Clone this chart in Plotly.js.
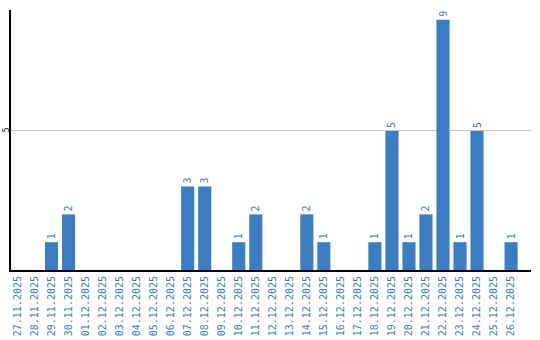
<!DOCTYPE html>
<html>
<head>
<meta charset="utf-8">
<script src="https://cdn.plot.ly/plotly-3.0.1.min.js"></script>
<style>html,body{margin:0;padding:0;background:#fff;}#chart{width:540px;height:340px;}</style>
</head>
<body>
<div id="chart"></div>
<script>
const dates = ["27.11.2025","28.11.2025","29.11.2025","30.11.2025","01.12.2025","02.12.2025","03.12.2025","04.12.2025","05.12.2025","06.12.2025","07.12.2025","08.12.2025","09.12.2025","10.12.2025","11.12.2025","12.12.2025","13.12.2025","14.12.2025","15.12.2025","16.12.2025","17.12.2025","18.12.2025","19.12.2025","20.12.2025","21.12.2025","22.12.2025","23.12.2025","24.12.2025","25.12.2025","26.12.2025"];
const counts = [0,0,1,2,0,0,0,0,0,0,3,3,0,1,2,0,0,2,1,0,0,1,5,1,2,9,1,5,0,1];
const yTicks = [5];

const labels = counts.map(v => v > 0 ? String(v) : "");
const idx = dates.map((d, i) => i);

const trace = {
  type: "bar",
  x: idx,
  y: counts,
  marker: {color: "#3b7dc3"},
  text: labels,
  textposition: "outside",
  textangle: -90,
  cliponaxis: false,
  textfont: {family: "DejaVu Sans Mono", size: 10, color: "#3b7dc3"},
  hoverinfo: "none"
};

const layout = {
  width: 540, height: 340,
  margin: {l: 11, r: 9, t: 10, b: 70},
  paper_bgcolor: "#fff", plot_bgcolor: "#fff",
  showlegend: false,
  bargap: 0.23,
  xaxis: {
    range: [-0.38, 30.17],
    tickmode: "array", tickvals: idx, ticktext: dates,
    tickangle: -90,
    tickfont: {family: "DejaVu Sans Mono", size: 10, color: "#3b7dc3"},
    showgrid: false, zeroline: false,
    showline: true, linecolor: "#000", linewidth: 2,
    ticks: "", fixedrange: true
  },
  yaxis: {
    range: [0, 9.35],
    tickmode: "array", tickvals: yTicks, ticktext: yTicks.map(String),
    tickangle: -90,
    ticklabelstandoff: -3,
    tickfont: {family: "DejaVu Sans Mono", size: 8, color: "#000"},
    showgrid: true, gridcolor: "#c8c8c8", gridwidth: 1,
    zeroline: false,
    showline: true, linecolor: "#000", linewidth: 2,
    ticks: "", fixedrange: true
  }
};

Plotly.newPlot("chart", [trace], layout, {staticPlot: true, displayModeBar: false});
</script>
</body>
</html>
